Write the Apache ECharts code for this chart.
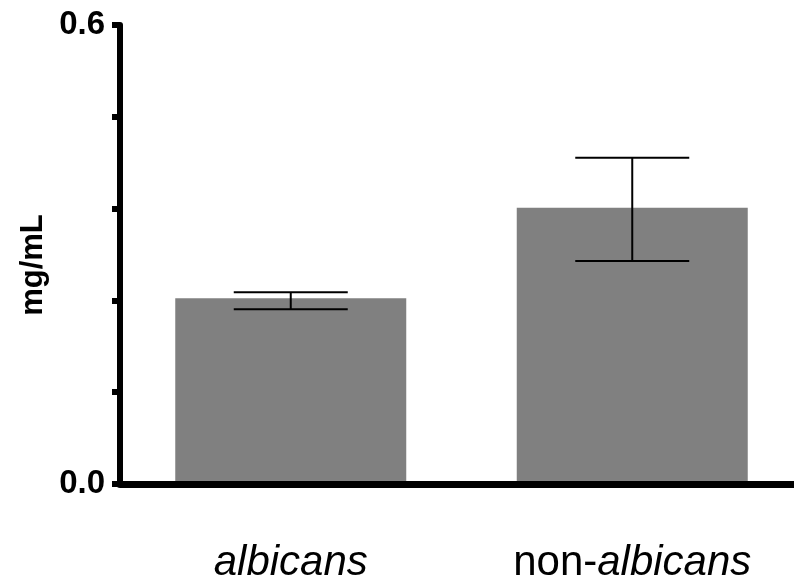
<!DOCTYPE html>
<html>
<head>
<meta charset="utf-8">
<script src="https://cdn.jsdelivr.net/npm/echarts@6/dist/echarts.min.js"></script>
<style>html,body{margin:0;padding:0;background:#fff}#c{width:794px;height:584px}</style>
</head>
<body>
<div id="c"></div>
<script>
const categories = ['albicans', 'non-albicans'];
const means = [0.2427, 0.3612];
const errLow = [0.2284, 0.2915];
const errHigh = [0.2506, 0.4265];
const yMin = 0, yMax = 0.6, yInterval = 0.12;
const yTickLabels = {'0': '0.0', '0.6': '0.6'};

const chart = echarts.init(document.getElementById('c'), null, {renderer: 'canvas'});
const errData = categories.map((c, i) => [i, errLow[i], errHigh[i]]);

chart.setOption({
  animation: false,
  backgroundColor: '#ffffff',
  grid: {left: 120, width: 683, top: 25, bottom: 100, outerBoundsMode: 'none', containLabel: false},
  xAxis: {
    type: 'category',
    data: categories,
    z: 5,
    axisLine: {lineStyle: {color: '#000', width: 7}},
    axisTick: {show: false},
    axisLabel: {
      margin: 58,
      formatter: function (v) {
        return v === 'non-albicans' ? '{n|non-}{i|albicans}' : '{i|albicans}';
      },
      rich: {
        n: {fontFamily: 'Liberation Sans, Arial, sans-serif', fontSize: 42, color: '#000'},
        i: {fontFamily: 'Liberation Sans, Arial, sans-serif', fontSize: 42, fontStyle: 'italic', color: '#000'}
      }
    }
  },
  yAxis: {
    type: 'value',
    min: yMin, max: yMax, interval: yInterval,
    z: 5,
    splitLine: {show: false},
    axisLine: {show: true, lineStyle: {color: '#000', width: 6}},
    axisTick: {show: true, length: 8, lineStyle: {color: '#000', width: 6}},
    axisLabel: {
      margin: 15,
      color: '#000',
      fontFamily: 'Liberation Sans, Arial, sans-serif',
      fontWeight: 'bold',
      fontSize: 33,
      formatter: function (v) {
        const k = String(Math.round(v * 100) / 100);
        return yTickLabels[k] !== undefined ? yTickLabels[k] : '';
      }
    }
  },
  graphic: [{
    type: 'text',
    x: 33, y: 265,
    rotation: Math.PI / 2,
    style: {
      text: 'mg/mL',
      fontFamily: 'Liberation Sans, Arial, sans-serif',
      fontWeight: 'bold',
      fontSize: 31,
      fill: '#000',
      textAlign: 'center',
      textVerticalAlign: 'middle'
    }
  }],
  series: [{
    type: 'bar',
    data: means,
    barWidth: 231,
    itemStyle: {color: '#808080'}
  }, {
    type: 'custom',
    data: errData,
    z: 4,
    renderItem: function (params, api) {
      const x = api.value(0);
      const lo = api.coord([x, api.value(1)]);
      const hi = api.coord([x, api.value(2)]);
      const hw = 57;
      const style = {stroke: '#000', lineWidth: 2};
      return {
        type: 'group',
        children: [
          {type: 'line', shape: {x1: lo[0], y1: lo[1], x2: hi[0], y2: hi[1]}, style: style},
          {type: 'line', shape: {x1: hi[0] - hw, y1: hi[1], x2: hi[0] + hw, y2: hi[1]}, style: style},
          {type: 'line', shape: {x1: lo[0] - hw, y1: lo[1], x2: lo[0] + hw, y2: lo[1]}, style: style}
        ]
      };
    }
  }]
});
</script>
</body>
</html>
